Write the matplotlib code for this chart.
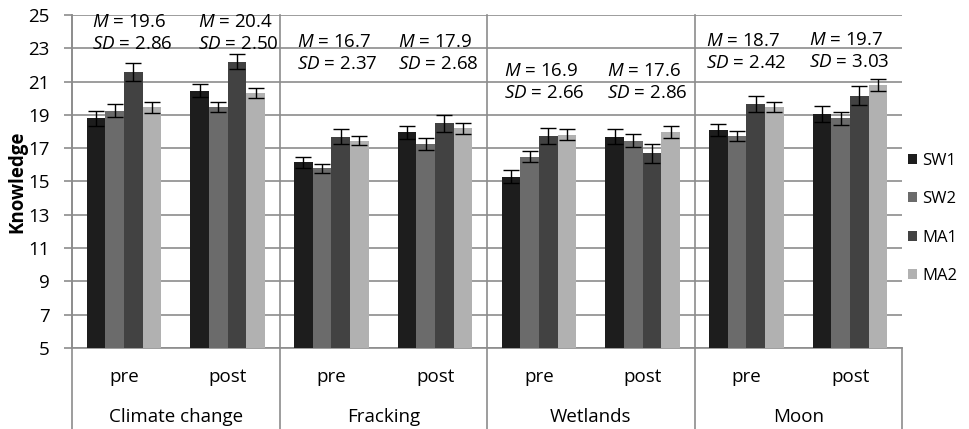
import numpy as np
import matplotlib
matplotlib.use("Agg")
import matplotlib.pyplot as plt

plt.rcParams['font.family'] = ['Open Sans', 'DejaVu Sans']
plt.rcParams['mathtext.fontset'] = 'custom'
plt.rcParams['mathtext.rm'] = 'Open Sans'
plt.rcParams['mathtext.it'] = 'Open Sans:italic'

topics = ['Climate change', 'Fracking', 'Wetlands', 'Moon']
phases = ['pre', 'post']
series = ['SW1', 'SW2', 'MA1', 'MA2']

# means per group (climate pre, climate post, fracking pre, ...)
sw1 = [18.8, 20.45, 16.15, 17.95, 15.3, 17.7, 18.1, 19.05]
sw2 = [19.25, 19.5, 15.8, 17.25, 16.5, 17.45, 17.75, 18.8]
ma1 = [21.6, 22.2, 17.7, 18.5, 17.75, 16.7, 19.65, 20.15]
ma2 = [19.45, 20.3, 17.45, 18.2, 17.8, 18.0, 19.5, 20.8]

sw1_err = [0.45, 0.4, 0.35, 0.4, 0.4, 0.45, 0.37, 0.48]
sw2_err = [0.38, 0.3, 0.28, 0.35, 0.32, 0.38, 0.3, 0.38]
ma1_err = [0.54, 0.46, 0.46, 0.52, 0.49, 0.56, 0.46, 0.58]
ma2_err = [0.35, 0.3, 0.28, 0.34, 0.33, 0.36, 0.3, 0.38]

m_vals = ['19.6', '20.4', '16.7', '17.9', '16.9', '17.6', '18.7', '19.7']
sd_vals = ['2.86', '2.50', '2.37', '2.68', '2.66', '2.86', '2.42', '3.03']

colors = ['#1d1d1d', '#6b6b6b', '#424242', '#b1b1b1']
# annotation placement (layout only)
txt_x = [-0.31, -0.29, -0.33, -0.36, -0.34, -0.34, -0.39, -0.40]
txt_y = [24.7, 24.7, 23.5, 23.5, 21.75, 21.75, 23.55, 23.6]

fs = 13.5

fig = plt.figure(figsize=(9.69, 4.29), dpi=100)
ax = fig.add_axes([72 / 969, 81 / 429, 830 / 969, 333 / 429])

x = np.arange(len(sw1))
w = 0.18
means = [sw1, sw2, ma1, ma2]
errs = [sw1_err, sw2_err, ma1_err, ma2_err]
for k in range(4):
    ax.bar(x + (k - 1.5) * w, np.array(means[k]) - 5, w, bottom=5,
           color=colors[k], label=series[k], zorder=3,
           yerr=errs[k], capsize=6, error_kw=dict(ecolor='black', elinewidth=1, capthick=1))

ax.set_xlim(-0.5, 7.5)
ax.set_ylim(5, 25)
ax.set_yticks(range(5, 26, 2))
ax.yaxis.grid(True, color='#8c8c8c', linewidth=1.2, zorder=0)
ax.set_axisbelow(True)
ax.tick_params(axis='y', length=6, width=1.2, color='#8c8c8c', labelsize=fs, pad=10)
ax.set_xticks([])
for s in ['top', 'right']:
    ax.spines[s].set_visible(False)
ax.spines['left'].set_color('#8c8c8c')
ax.spines['left'].set_linewidth(1.2)
ax.spines['bottom'].set_color('#8c8c8c')
ax.spines['bottom'].set_linewidth(1.2)
ax.set_ylabel('Knowledge', fontsize=fs, fontweight='bold', labelpad=1)

trans = ax.get_xaxis_transform()
# group separators through plot and category area
for b in [-0.5, 1.5, 3.5, 5.5, 7.5]:
    top = 1.0 if b < 7 else 0.0
    ax.plot([b, b], [-0.26, top], transform=trans, color='#8c8c8c',
            linewidth=1.2, clip_on=False, zorder=1)
for i in x:
    ax.text(i, -0.087, phases[i % 2], transform=trans, ha='center', va='center', fontsize=fs)
for j, t in enumerate(topics):
    ax.text(2 * j + 0.5, -0.207, t, transform=trans, ha='center', va='center', fontsize=fs)

for i in x:
    ax.text(txt_x[i] + i, txt_y[i] - 0.1, r'$\mathit{M}$ = ' + m_vals[i], ha='left', va='center', fontsize=fs)
    ax.text(txt_x[i] + i, txt_y[i] - 1.45, r'$\mathit{SD}$ = ' + sd_vals[i], ha='left', va='center', fontsize=fs)

ax.legend(loc='center left', bbox_to_anchor=(0.937, 0.491), bbox_transform=fig.transFigure,
          frameon=False, borderpad=0, handlelength=0.55, handleheight=0.55,
          handletextpad=0.3, labelspacing=1.35, fontsize=12, borderaxespad=0)

fig.savefig('out.png', dpi=100)
